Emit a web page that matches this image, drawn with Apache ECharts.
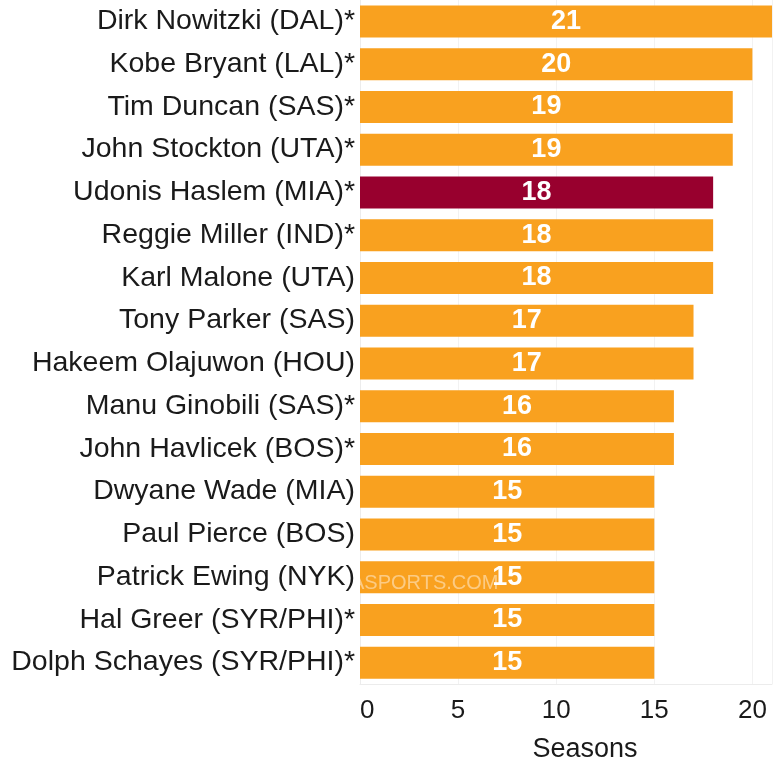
<!DOCTYPE html>
<html>
<head>
<meta charset="utf-8">
<script src="https://cdn.jsdelivr.net/npm/echarts@6/dist/echarts.min.js"></script>
<style>html,body{margin:0;padding:0;background:#fff}#c{width:778px;height:768px}</style>
</head>
<body>
<div id="c"></div>
<script>
const players = ["Dirk Nowitzki (DAL)*","Kobe Bryant (LAL)*","Tim Duncan (SAS)*","John Stockton (UTA)*","Udonis Haslem (MIA)*","Reggie Miller (IND)*","Karl Malone (UTA)","Tony Parker (SAS)","Hakeem Olajuwon (HOU)","Manu Ginobili (SAS)*","John Havlicek (BOS)*","Dwyane Wade (MIA)","Paul Pierce (BOS)","Patrick Ewing (NYK)","Hal Greer (SYR/PHI)*","Dolph Schayes (SYR/PHI)*"];
const seasons = [21,20,19,19,18,18,18,17,17,16,16,15,15,15,15,15];
const highlight = ["Udonis Haslem (MIA)*"];
const xTicks = [0,5,10,15,20];

const FONT = '"Liberation Sans", Arial, sans-serif';
const chart = echarts.init(document.getElementById('c'));
chart.setOption({
  animation:false,
  grid:{left:360,right:6,top:0,height:688,containLabel:false},
  xAxis:{
    type:'value',min:0,max:21,interval:5,
    axisLine:{show:true,lineStyle:{color:'#ececec'}},
    axisTick:{show:false},
    splitLine:{show:true,lineStyle:{color:'#f2f2f2'}},
    axisLabel:{fontSize:26,color:'#1a1a1a',fontFamily:FONT,margin:14,alignMinLabel:'left',
      formatter:v=>xTicks.includes(v)?String(v):''},
    name:'Seasons',nameLocation:'middle',nameGap:52,
    nameTextStyle:{fontSize:27,color:'#1a1a1a',fontFamily:FONT,padding:[0,0,0,38]}
  },
  yAxis:{
    type:'category',data:players,inverse:true,
    axisLine:{show:true,lineStyle:{color:'#ececec'}},
    axisTick:{show:false},
    axisLabel:{fontSize:28.5,color:'#1a1a1a',fontFamily:FONT,margin:5}
  },
  graphic:[{type:'text',left:351,top:573,z:100,silent:true,
    style:{text:'ASPORTS.COM',fontSize:20,fontFamily:FONT,fill:'rgba(255,255,255,0.45)'}}],
  series:[{
    type:'bar',barWidth:32,
    data:seasons.map((v,i)=>({value:v,itemStyle:{color:highlight.includes(players[i])?'#98002E':'#F9A11F'}})),
    label:{show:true,position:'inside',color:'#fff',fontWeight:'bold',fontSize:27,fontFamily:FONT}
  }]
});
</script>
</body>
</html>
